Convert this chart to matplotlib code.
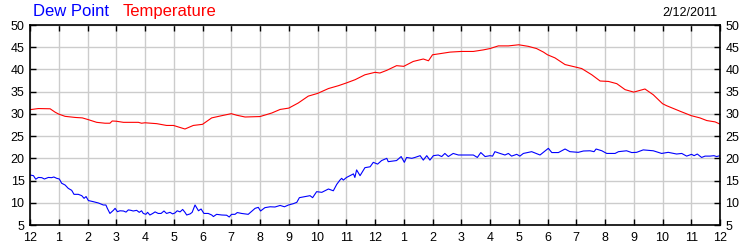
import numpy as np
import matplotlib
matplotlib.use("Agg")
import matplotlib.pyplot as plt

plt.rcParams['font.family'] = ['Liberation Sans', 'DejaVu Sans']

# hours since midnight, temperature (F)
temp_hours = [0.00, 0.29, 0.70, 0.87, 1.00, 1.22, 1.57, 1.82, 2.03, 2.32, 2.61, 2.78,
              2.86, 3.00, 3.25, 3.77, 3.88, 4.00, 4.41, 4.75, 4.99, 5.39, 5.68, 6.00,
              6.32, 6.67, 7.00, 7.19, 7.48, 8.00, 8.41, 8.70, 9.00, 9.33, 9.68, 10.00,
              10.38, 10.73, 11.00, 11.31, 11.65, 12.00, 12.17, 12.41, 12.75, 13.00,
              13.33, 13.68, 13.86, 14.00, 14.26, 14.61, 15.00, 15.42, 15.77, 16.00,
              16.29, 16.64, 17.00, 17.33, 17.62, 17.86, 18.00, 18.26, 18.61, 19.00,
              19.19, 19.54, 19.83, 20.12, 20.41, 20.70, 21.00, 21.39, 21.68, 22.00,
              22.14, 22.61, 23.00, 23.30, 23.54, 23.83, 24.00]
temperature = [30.95, 31.2, 31.15, 30.4, 29.95, 29.45, 29.2, 29.1, 28.7, 28.1, 27.9, 27.9,
               28.4, 28.35, 28.1, 28.1, 27.9, 28.0, 27.8, 27.4, 27.4, 26.6, 27.4, 27.65,
               29.1, 29.6, 30.05, 29.7, 29.3, 29.4, 30.2, 31.0, 31.3, 32.45, 34.0, 34.6,
               35.7, 36.35, 36.95, 37.7, 38.8, 39.35, 39.2, 39.8, 40.85, 40.7,
               41.8, 42.35, 41.95, 43.3, 43.55, 43.9, 44.05, 44.05, 44.4, 44.7,
               45.3, 45.3, 45.55, 45.2, 44.7, 43.9, 43.3, 42.6, 41.1, 40.5,
               40.2, 38.8, 37.4, 37.3, 36.8, 35.45, 34.9, 35.6, 34.3, 32.3,
               31.85, 30.6, 29.6, 29.1, 28.5, 28.2, 27.7]

# hours since midnight, dew point (F)
dew_hours = [0.00, 0.12, 0.20, 0.29, 0.41, 0.50, 0.64, 0.75, 0.83, 0.93, 1.02, 1.10,
             1.22, 1.33, 1.45, 1.53, 1.68, 1.80, 1.88, 1.95, 2.03, 2.20, 2.38, 2.55,
             2.64, 2.69, 2.78, 2.90, 2.96, 3.04, 3.13, 3.25, 3.34, 3.42, 3.51, 3.59,
             3.71, 3.80, 3.88, 3.94, 4.03, 4.09, 4.17, 4.27, 4.35, 4.46, 4.56, 4.66,
             4.75, 4.87, 4.96, 5.04, 5.12, 5.22, 5.31, 5.39, 5.45, 5.57, 5.64, 5.74,
             5.86, 5.95, 6.05, 6.20, 6.32, 6.38, 6.49, 6.67, 6.84, 6.93, 7.01, 7.13,
             7.21, 7.36, 7.59, 7.83, 7.94, 8.02, 8.17, 8.35, 8.52, 8.70, 8.85, 8.99,
             9.16, 9.28, 9.37, 9.57, 9.74, 9.83, 9.97, 10.15, 10.26, 10.38, 10.55, 10.67,
             10.78, 10.84, 10.90, 11.01, 11.13, 11.25, 11.30, 11.36, 11.48, 11.65, 11.83,
             11.94, 12.09, 12.23, 12.41, 12.46, 12.75, 12.91, 13.02, 13.10, 13.28, 13.39,
             13.57, 13.68, 13.80, 13.91, 14.03, 14.20, 14.32, 14.43, 14.55, 14.72, 14.90,
             15.07, 15.42, 15.56, 15.68, 15.83, 16.00, 16.09, 16.17, 16.35, 16.52, 16.64,
             16.75, 16.93, 17.04, 17.16, 17.45, 17.74, 18.03, 18.15, 18.38, 18.61, 18.78,
             19.07, 19.25, 19.48, 19.62, 19.69, 19.89, 20.06, 20.35, 20.47, 20.75, 20.93,
             21.10, 21.33, 21.68, 21.97, 22.20, 22.49, 22.67, 22.84, 23.01, 23.10, 23.21,
             23.36, 23.48, 23.65, 23.79, 23.88, 24.00]
dew_point = [16.25, 16.1, 15.3, 15.7, 15.65, 15.35, 15.7, 15.65, 15.8, 15.5, 15.35, 14.4,
             14.0, 13.25, 12.8, 11.9, 11.9, 11.6, 11.0, 11.4, 10.5, 10.25, 9.95, 9.5,
             9.5, 8.75, 7.6, 8.3, 8.75, 8.0, 8.2, 8.15, 7.9, 8.4, 8.3, 8.15,
             8.3, 7.85, 8.2, 7.6, 7.4, 7.85, 7.25, 7.6, 7.95, 7.6, 7.6, 8.15,
             7.6, 7.85, 7.5, 7.7, 8.2, 7.95, 8.5, 7.85, 7.25, 7.5, 7.85, 9.5,
             8.2, 8.6, 7.6, 7.6, 7.25, 6.9, 7.4, 7.25, 7.2, 6.8, 7.4, 7.4,
             7.8, 7.6, 7.4, 8.75, 8.97, 8.15, 8.9, 9.1, 9.05, 9.4, 9.1, 9.5,
             9.8, 10.1, 11.15, 11.4, 11.6, 11.15, 12.5, 12.35, 12.7, 13.1, 12.7, 14.15,
             15.1, 15.5, 15.1, 15.7, 16.1, 16.5, 15.7, 17.4, 16.1, 17.9, 18.1,
             19.1, 18.7, 19.5, 20.0, 19.25, 19.5, 20.4, 19.1, 20.2, 20.0, 20.2,
             20.6, 19.6, 20.6, 19.6, 20.6, 20.75, 20.4, 21.1, 20.4, 21.1, 20.75,
             20.75, 20.75, 20.2, 21.3, 20.4, 20.6, 20.5, 21.5, 21.1, 20.75, 21.1,
             20.5, 20.9, 20.5, 21.1, 21.5, 20.75, 22.25, 21.3, 21.3, 22.1, 21.5,
             21.35, 21.65, 21.7, 21.5, 22.1, 21.7, 21.1, 21.1, 21.5, 21.7, 21.3,
             21.35, 21.9, 21.7, 21.1, 21.35, 20.97, 21.1, 20.5, 20.9, 20.6, 20.97,
             20.2, 20.5, 20.5, 20.6, 20.4, 20.6]

hour_labels = ['12', '1', '2', '3', '4', '5', '6', '7', '8', '9', '10', '11',
               '12', '1', '2', '3', '4', '5', '6', '7', '8', '9', '10', '11', '12']
date_label = "2/12/2011"

fig = plt.figure(figsize=(7.5, 2.5), dpi=100)
ax = fig.add_axes([0.04, 0.10, 0.92, 0.80])

ax.plot(temp_hours, temperature, color='#ff0000', lw=0.8)
ax.plot(dew_hours, dew_point, color='#0000ff', lw=0.8)

ax.set_xlim(0, 24)
ax.set_ylim(5, 50)
ax.set_xticks(np.arange(25))
ax.set_xticklabels(hour_labels)
ax.set_yticks(np.arange(5, 51, 5))
ax.grid(True, color='#cccccc', lw=1.0)
ax.set_axisbelow(True)

ax.tick_params(direction='in', length=4, width=1, color='black', labelsize=9,
               top=True, right=True, labelright=True)
ax.tick_params(axis='x', pad=5)
ax.tick_params(axis='y', pad=4)
for s in ax.spines.values():
    s.set_color('black')
    s.set_linewidth(1.2)

fig.text(0.044, 0.935, "Dew Point", color='#0000ff', fontsize=12, va='baseline')
fig.text(0.163, 0.935, "Temperature", color='#ff0000', fontsize=12, va='baseline')
fig.text(0.956, 0.935, date_label, color='black', fontsize=9, ha='right', va='baseline')

fig.savefig("out.png", dpi=100)
